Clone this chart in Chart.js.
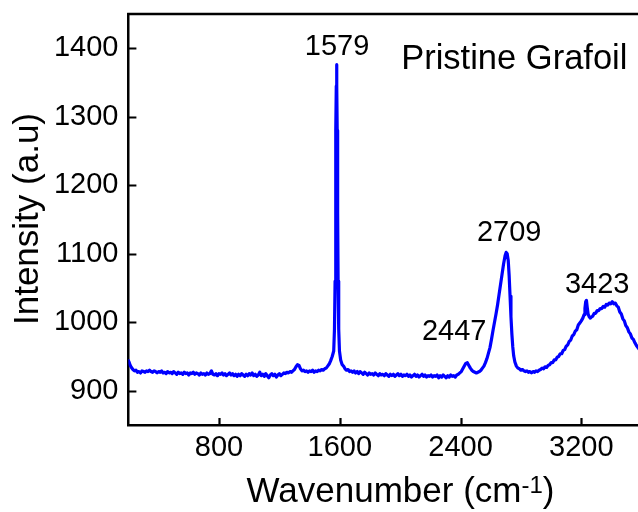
<!DOCTYPE html>
<html><head><meta charset="utf-8">
<script src="https://cdn.jsdelivr.net/npm/chart.js@4.4.1/dist/chart.umd.min.js"></script>
<style>
html,body{margin:0;padding:0;overflow:hidden;background:#fff;width:638px;height:512px}
#wrap{position:absolute;left:0;top:0;width:660px;height:512px}
</style>
</head><body><div id="wrap"><canvas id="c" width="660" height="512"></canvas></div>
<script>
const wavenumber = [
  200,206,212,220,230,240,250,260,270,280,
  290,300,310,320,330,340,350,360,370,380,
  390,400,410,420,430,440,450,460,470,480,
  490,500,510,520,530,540,550,560,570,580,
  590,600,610,620,630,640,650,660,670,680,
  690,700,710,720,730,740,750,760,770,780,
  790,800,810,820,830,840,850,860,870,880,
  890,900,910,920,930,940,950,960,970,980,
  990,1000,1010,1020,1030,1040,1050,1060,1070,1080,
  1090,1100,1110,1120,1130,1140,1150,1160,1170,1180,
  1190,1200,1210,1220,1230,1240,1250,1260,1270,1280,
  1290,1300,1310,1320,1330,1340,1350,1360,1370,1380,
  1390,1400,1410,1420,1430,1440,1450,1460,1470,1480,
  1490,1500,1510,1520,1530,1540,1550,1560,1565,1569,
  1572,1575,1577,1579,1581,1583,1586,1589,1593,1598,
  1606,1616,
  1625,1635,1645,1655,1665,1675,1685,1695,1705,1715,
  1725,1735,1745,1755,1765,1775,1785,1795,1805,1815,
  1825,1835,1845,1855,1865,1875,1885,1895,1905,1915,
  1925,1935,1945,1955,1965,1975,1985,1995,2005,2015,
  2025,2035,2045,2055,2065,2075,2085,2095,2105,2115,
  2125,2135,2145,2155,2165,2175,2185,2195,2205,2215,
  2225,2235,2245,2255,2265,2275,2285,2295,2305,2315,
  2325,2335,2345,2355,2365,2375,2385,2395,2405,2415,
  2425,2435,2445,2455,2465,2475,2485,2495,2505,2515,
  2525,2535,2545,2555,2565,2575,2585,2595,2605,2615,
  2625,2635,2645,2655,2665,2675,2685,2695,2702,2709,
  2716,2722,2728,2734,2740,2746,2752,2760,2770,2780,
  2790,2800,2810,2820,2830,2840,2850,2860,2870,2880,
  2890,2900,2910,2920,2930,2940,2950,2960,2970,2980,
  2990,3000,3010,3020,3030,3040,3050,3060,3070,3080,
  3090,3100,3110,3120,3130,3140,3150,3160,3170,3180,
  3190,3200,3210,3218,3224,3229,3234,3239,3245,3252,
  3260,3268,3276,3285,3295,3305,3315,3325,3335,3345,
  3355,3365,3375,3385,3395,3405,3415,3425,3435,3445,
  3455,3465,3475,3485,3495,3505,3515,3525,3535,3545,
  3555,3565,3575,3585,3595,3600
];
const intensity = [
  944,941,937,934,931,929,930,927,928,926,
  929,928,927,929,928,930,928,927,929,928,
  926,928,927,929,926,927,925,928,926,927,
  925,928,926,924,927,925,926,924,927,925,
  926,923,926,925,927,924,926,925,923,926,
  924,925,923,926,924,925,929,924,923,925,
  922,925,924,926,923,925,922,924,926,923,
  925,922,924,921,924,922,925,923,921,924,
  922,925,923,926,922,924,921,923,927,922,
  924,921,925,922,919,923,925,922,924,920,
  923,925,922,924,926,925,927,926,928,927,
  929,931,935,938,937,932,929,930,928,929,
  927,929,928,930,927,929,928,930,929,931,
  930,932,933,936,939,944,950,958,990,1060,
  1160,1280,1345,1376,1345,1280,1160,1060,990,958,
  945,938,
  936,932,930,931,928,929,927,929,926,928,
  925,928,926,924,927,925,923,926,924,925,
  923,926,924,922,925,923,924,922,925,923,
  921,924,922,924,921,923,925,922,924,921,
  923,922,924,921,923,920,922,924,921,923,
  920,922,924,921,923,920,922,921,923,920,
  922,921,923,919,922,920,923,921,919,922,
  920,923,921,922,920,923,924,926,928,932,
  936,940,941,937,933,930,928,927,926,927,
  928,930,933,936,941,947,955,963,975,988,
  1000,1012,1025,1040,1055,1070,1085,1097,1102,1100,
  1090,1068,1038,1008,983,964,951,942,936,933,
  932,930,931,929,928,929,927,928,926,928,
  927,929,928,930,931,933,932,935,934,937,
  938,941,941,945,945,949,950,954,954,959,
  960,965,967,972,974,980,982,987,989,996,
  999,1002,1006,1011,1020,1030,1032,1022,1012,1008,
  1006,1008,1009,1013,1013,1017,1017,1020,1020,1023,
  1022,1026,1025,1028,1027,1030,1027,1028,1024,1022,
  1015,1012,1005,1002,995,992,986,983,977,975,
  970,966,963,960,957,955
];
const xTickValues = [800, 1600, 2400, 3200];
const yTickValues = [900, 1000, 1100, 1200, 1300, 1400];
const peakLabels = ['1579', '2447', '2709', '3423'];
const sampleName = 'Pristine Grafoil';
const xTitle = 'Wavenumber (cm';
const xTitleSup = '-1';
const yTitle = 'Intensity (a.u)';

const FONT = '"Liberation Sans", Arial, Helvetica, sans-serif';

const annotationCfg = {
  peaks: [
    {text: peakLabels[0], x: 1582, y: 1390},
    {text: peakLabels[1], x: 2358, y: 974},
    {text: peakLabels[2], x: 2722, y: 1119},
    {text: peakLabels[3], x: 3305, y: 1043}
  ],
  name: {text: sampleName, x: 2007, y: 1370}
};

const framePlugin = {
  id: 'frame',
  afterDraw(chart) {
    const ctx = chart.ctx;
    const a = chart.chartArea;
    const xs = chart.scales.x, ys = chart.scales.y;
    ctx.save();
    ctx.strokeStyle = '#000';
    ctx.lineWidth = 2.5;
    ctx.beginPath();
    ctx.moveTo(a.left - 1.25, a.top);
    ctx.lineTo(a.right, a.top);
    ctx.moveTo(a.right, a.top);
    ctx.lineTo(a.right, a.bottom);
    ctx.stroke();
    ctx.lineWidth = 2.2;
    ctx.beginPath();
    xTickValues.forEach(v => {
      const px = Math.round(xs.getPixelForValue(v)) + 0.5;
      ctx.moveTo(px, a.bottom);
      ctx.lineTo(px, a.bottom - 7);
    });
    yTickValues.forEach(v => {
      const py = Math.round(ys.getPixelForValue(v)) + 0.5;
      ctx.moveTo(a.left, py);
      ctx.lineTo(a.left + 8, py);
    });
    ctx.stroke();

    ctx.fillStyle = '#000';
    ctx.textBaseline = 'alphabetic';
    ctx.font = '29px ' + FONT;
    ctx.textAlign = 'center';
    annotationCfg.peaks.forEach(p => {
      ctx.fillText(p.text, xs.getPixelForValue(p.x), ys.getPixelForValue(p.y));
    });
    ctx.font = '34.5px ' + FONT;
    ctx.textAlign = 'left';
    ctx.fillText(annotationCfg.name.text, xs.getPixelForValue(annotationCfg.name.x), ys.getPixelForValue(annotationCfg.name.y));

    ctx.font = '35px ' + FONT;
    const w1 = ctx.measureText(xTitle).width;
    ctx.font = '24px ' + FONT;
    const w2 = ctx.measureText(xTitleSup).width;
    ctx.font = '35px ' + FONT;
    const w3 = ctx.measureText(')').width;
    const total = w1 + w2 + w3;
    const x0 = 400.5 - total / 2;
    const base = 502;
    ctx.textAlign = 'left';
    ctx.fillText(xTitle, x0, base);
    ctx.font = '24px ' + FONT;
    ctx.fillText(xTitleSup, x0 + w1, base - 9);
    ctx.font = '35px ' + FONT;
    ctx.fillText(')', x0 + w1 + w2, base);

    ctx.save();
    ctx.translate(38, 219);
    ctx.rotate(-Math.PI / 2);
    ctx.textAlign = 'center';
    ctx.font = '35px ' + FONT;
    ctx.fillText(yTitle, 0, 0);
    ctx.restore();
    ctx.restore();
  }
};

new Chart(document.getElementById('c'), {
  type: 'scatter',
  data: {
    datasets: [{
      data: wavenumber.map((x, i) => ({x: x, y: intensity[i]})),
      showLine: true,
      borderColor: '#0000ff',
      borderWidth: 3.2,
      borderJoinStyle: 'round',
      borderCapStyle: 'round',
      pointRadius: 0,
      fill: false,
      tension: 0
    }]
  },
  options: {
    responsive: false,
    animation: false,
    devicePixelRatio: 1,
    layout: {padding: {top: 14, right: 18.3, left: 0, bottom: 0}},
    plugins: {legend: {display: false}, tooltip: {enabled: false}},
    scales: {
      x: {
        type: 'linear', min: 200, max: 3600,
        afterBuildTicks: s => { s.ticks = xTickValues.map(v => ({value: v})); },
        afterFit: s => { s.height = 87; s.paddingLeft = 0; s.paddingRight = 0; },
        ticks: {font: {family: FONT, size: 29}, color: '#000', padding: 6, maxRotation: 0, autoSkip: false,
                callback: v => String(v)},
        grid: {display: false, drawTicks: false},
        border: {display: true, color: '#000', width: 2.5}
      },
      y: {
        type: 'linear', min: 850, max: 1450,
        afterBuildTicks: s => { s.ticks = yTickValues.map(v => ({value: v})); },
        afterFit: s => { s.width = 128.4; s.paddingTop = 0; s.paddingBottom = 0; },
        ticks: {font: {family: FONT, size: 29}, color: '#000', padding: 10, autoSkip: false,
                callback: v => String(v)},
        grid: {display: false, drawTicks: false},
        border: {display: true, color: '#000', width: 2.5}
      }
    }
  },
  plugins: [framePlugin]
});
</script>
</body></html>
